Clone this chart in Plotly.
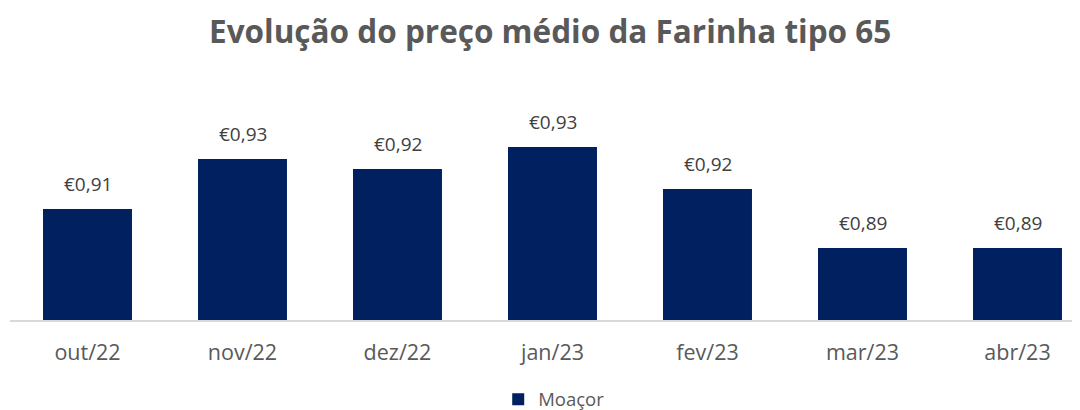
import plotly.graph_objects as go

categories = ["out/22", "nov/22", "dez/22", "jan/23", "fev/23", "mar/23", "abr/23"]
values = [0.9072, 0.9284, 0.9242, 0.9335, 0.9157, 0.8906, 0.8906]
series_name = "Moaçor"
title_text = "Evolução do preço médio da Farinha tipo 65"

labels = ["€" + f"{v:.2f}".replace(".", ",") for v in values]

FONT = "Open Sans"
GRAY = "#595959"

xs = list(range(len(categories)))

fig = go.Figure()
fig.add_trace(go.Bar(
    x=xs,
    y=values,
    name=series_name,
    marker=dict(color="#002060", line=dict(width=0)),
    width=0.574,
    showlegend=True,
))

for x, v, lab in zip(xs, values, labels):
    fig.add_annotation(x=x, y=v, text=lab, showarrow=False, xref="x", yref="y",
                       yanchor="middle", yshift=25,
                       font=dict(family=FONT, size=19, color="#404040"))

fig.update_layout(
    width=1080, height=410,
    margin=dict(l=2, r=13, t=92, b=98, autoexpand=False),
    paper_bgcolor="white", plot_bgcolor="white",
    title=dict(text="<b>" + title_text + "</b>", x=0.502, xanchor="center",
               y=0.941, yanchor="middle",
               font=dict(family=FONT, size=31.5, color=GRAY)),
    xaxis=dict(
        tickmode="array", tickvals=xs, ticktext=categories,
        range=[-0.5, 6.371], showline=True, linecolor="#D9D9D9", linewidth=1.5,
        showgrid=False, zeroline=False, ticks="", automargin=False,
        ticklabelstandoff=12,
        tickfont=dict(family=FONT, size=21.5, color=GRAY),
    ),
    yaxis=dict(range=[0.86, 0.9535], visible=False, showgrid=False, zeroline=False,
               automargin=False),
    legend=dict(orientation="h", x=0.511, xanchor="center", y=-0.362, yanchor="middle",
                font=dict(family=FONT, size=18.5, color=GRAY), itemwidth=30),
)

fig.write_html("out.html")
